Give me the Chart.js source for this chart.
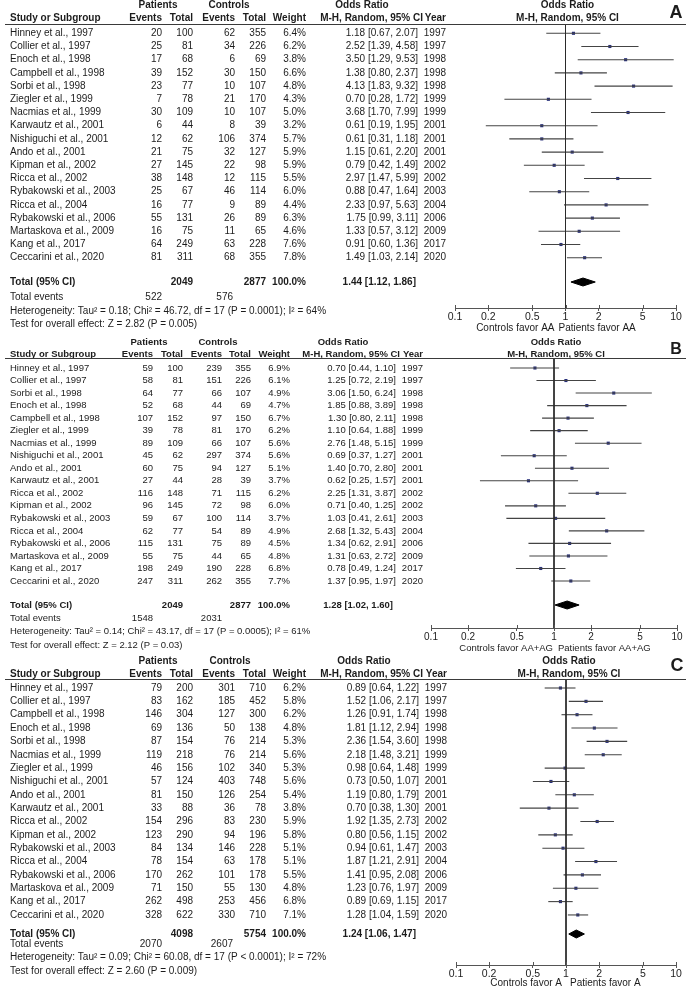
<!DOCTYPE html>
<html><head><meta charset="utf-8">
<script src="https://cdn.jsdelivr.net/npm/chart.js@4.4.1/dist/chart.umd.min.js"></script>
<style>
html,body{margin:0;padding:0;background:#fff}
#wrap{position:relative;width:686px;height:991px;overflow:hidden;background:#fff}
canvas{position:absolute;left:0}
</style>
</head><body>
<div id="wrap">
<canvas id="cA" width="686" height="333" style="top:0px;width:686px;height:333px"></canvas>
<canvas id="cB" width="686" height="322" style="top:333px;width:686px;height:322px"></canvas>
<canvas id="cC" width="686" height="336" style="top:655px;width:686px;height:336px"></canvas>
</div>
<script>
// ---------------- DATA ----------------
const tickValues = [0.1, 0.2, 0.5, 1, 2, 5, 10];

// Panel A (AA)
const studiesA = ["Hinney et al., 1997","Collier et al., 1997","Enoch et al., 1998","Campbell et al., 1998","Sorbi et al., 1998","Ziegler et al., 1999","Nacmias et al., 1999","Karwautz et al., 2001","Nishiguchi et al., 2001","Ando et al., 2001","Kipman et al., 2002","Ricca et al., 2002","Rybakowski et al., 2003","Ricca et al., 2004","Rybakowski et al., 2006","Martaskova et al., 2009","Kang et al., 2017","Ceccarini et al., 2020"];
const patEventsA = [20,25,17,39,23,7,30,6,12,21,27,38,25,16,55,16,64,81];
const patTotalA = [100,81,68,152,77,78,109,44,62,75,145,148,67,77,131,75,249,311];
const conEventsA = [62,34,6,30,10,21,10,8,106,32,22,12,46,9,26,11,63,68];
const conTotalA = [355,226,69,150,107,170,107,39,374,127,98,115,114,89,89,65,228,355];
const weightA = [6.4,6.2,3.8,6.6,4.8,4.3,5.0,3.2,5.7,5.9,5.9,5.5,6.0,4.4,6.3,4.6,7.6,7.8];
const orA = [1.18,2.52,3.50,1.38,4.13,0.70,3.68,0.61,0.61,1.15,0.79,2.97,0.88,2.33,1.75,1.33,0.91,1.49];
const lowA = [0.67,1.39,1.29,0.80,1.83,0.28,1.70,0.19,0.31,0.61,0.42,1.47,0.47,0.97,0.99,0.57,0.60,1.03];
const highA = [2.07,4.58,9.53,2.37,9.32,1.72,7.99,1.95,1.18,2.20,1.49,5.99,1.64,5.63,3.11,3.12,1.36,2.14];
const yearA = [1997,1997,1998,1998,1998,1999,1999,2001,2001,2001,2002,2002,2003,2004,2006,2009,2017,2020];
const summaryA = [1.44,1.12,1.86];
const totalsA = [2049,2877];
const totalEventsA = [522,576];
const hetA = "Heterogeneity: Tau\u00b2 = 0.18; Chi\u00b2 = 46.72, df = 17 (P = 0.0001); I\u00b2 = 64%";
const testA = "Test for overall effect: Z = 2.82 (P = 0.005)";

// Panel B (AA+AG)
const studiesB = ["Hinney et al., 1997","Collier et al., 1997","Sorbi et al., 1998","Enoch et al., 1998","Campbell et al., 1998","Ziegler et al., 1999","Nacmias et al., 1999","Nishiguchi et al., 2001","Ando et al., 2001","Karwautz et al., 2001","Ricca et al., 2002","Kipman et al., 2002","Rybakowski et al., 2003","Ricca et al., 2004","Rybakowski et al., 2006","Martaskova et al., 2009","Kang et al., 2017","Ceccarini et al., 2020"];
const patEventsB = [59,58,64,52,107,39,89,45,60,27,116,96,59,62,115,55,198,247];
const patTotalB = [100,81,77,68,152,78,109,62,75,44,148,145,67,77,131,75,249,311];
const conEventsB = [239,151,66,44,97,81,66,297,94,28,71,72,100,54,75,44,190,262];
const conTotalB = [355,226,107,69,150,170,107,374,127,39,115,98,114,89,89,65,228,355];
const weightB = [6.9,6.1,4.9,4.7,6.7,6.2,5.6,5.6,5.1,3.7,6.2,6.0,3.7,4.9,4.5,4.8,6.8,7.7];
const orB = [0.70,1.25,3.06,1.85,1.30,1.10,2.76,0.69,1.40,0.62,2.25,0.71,1.03,2.68,1.34,1.31,0.78,1.37];
const lowB = [0.44,0.72,1.50,0.88,0.80,0.64,1.48,0.37,0.70,0.25,1.31,0.40,0.41,1.32,0.62,0.63,0.49,0.95];
const highB = [1.10,2.19,6.24,3.89,2.11,1.88,5.15,1.27,2.80,1.57,3.87,1.25,2.61,5.43,2.91,2.72,1.24,1.97];
const yearB = [1997,1997,1998,1998,1998,1999,1999,2001,2001,2001,2002,2002,2003,2004,2006,2009,2017,2020];
const summaryB = [1.28,1.02,1.60];
const totalsB = [2049,2877];
const totalEventsB = [1548,2031];
const hetB = "Heterogeneity: Tau\u00b2 = 0.14; Chi\u00b2 = 43.17, df = 17 (P = 0.0005); I\u00b2 = 61%";
const testB = "Test for overall effect: Z = 2.12 (P = 0.03)";

// Panel C (A allele)
const studiesC = ["Hinney et al., 1997","Collier et al., 1997","Campbell et al., 1998","Enoch et al., 1998","Sorbi et al., 1998","Nacmias et al., 1999","Ziegler et al., 1999","Nishiguchi et al., 2001","Ando et al., 2001","Karwautz et al., 2001","Ricca et al., 2002","Kipman et al., 2002","Rybakowski et al., 2003","Ricca et al., 2004","Rybakowski et al., 2006","Martaskova et al., 2009","Kang et al., 2017","Ceccarini et al., 2020"];
const patEventsC = [79,83,146,69,87,119,46,57,81,33,154,123,84,78,170,71,262,328];
const patTotalC = [200,162,304,136,154,218,156,124,150,88,296,290,134,154,262,150,498,622];
const conEventsC = [301,185,127,50,76,76,102,403,126,36,83,94,146,63,101,55,253,330];
const conTotalC = [710,452,300,138,214,214,340,748,254,78,230,196,228,178,178,130,456,710];
const weightC = [6.2,5.8,6.2,4.8,5.3,5.6,5.3,5.6,5.4,3.8,5.9,5.8,5.1,5.1,5.5,4.8,6.8,7.1];
const orC = [0.89,1.52,1.26,1.81,2.36,2.18,0.98,0.73,1.19,0.70,1.92,0.80,0.94,1.87,1.41,1.23,0.89,1.28];
const lowC = [0.64,1.06,0.91,1.12,1.54,1.48,0.64,0.50,0.80,0.38,1.35,0.56,0.61,1.21,0.95,0.76,0.69,1.04];
const highC = [1.22,2.17,1.74,2.94,3.60,3.21,1.48,1.07,1.79,1.30,2.73,1.15,1.47,2.91,2.08,1.97,1.15,1.59];
const yearC = [1997,1997,1998,1998,1998,1999,1999,2001,2001,2001,2002,2002,2003,2004,2006,2009,2017,2020];
const summaryC = [1.24,1.06,1.47];
const totalsC = [4098,5754];
const totalEventsC = [2070,2607];
const hetC = "Heterogeneity: Tau\u00b2 = 0.09; Chi\u00b2 = 60.08, df = 17 (P < 0.0001); I\u00b2 = 72%";
const testC = "Test for overall effect: Z = 2.60 (P = 0.009)";

// ---------------- LAYOUT (panel-local pixels) ----------------
const panels = [
  { id:'cA', letter:'A', H:333, fs:10,
    studies:studiesA, pe:patEventsA, pt:patTotalA, ce:conEventsA, ct:conTotalA, w:weightA, or:orA, lo:lowA, hi:highA, yr:yearA,
    sum:summaryA, tot:totalsA, tev:totalEventsA, het:hetA, test:testA,
    favL:'Controls favor AA', favR:'Patients favor AA',
    plotLeft:455, plotRight:676, lineTop:24, axis:308, row0:33.3, rowStep:13.2, totalY:282,
    hdr1:5, hdr2:18, foot:[297.7,311,324.3], favY:328, favDxL:-11, favDxR:-7, plotHdrDx:2,
    cols:{name:10, pe:162, pt:193, ce:235, ct:266, w:306, or:418, orTot:416, mh:423, yr:446, patC:158, conC:229, orC:362, tevC:233},
    letterX:676, letterY:13, letterSize:18 },
  { id:'cB', letter:'B', H:322, fs:9.5,
    studies:studiesB, pe:patEventsB, pt:patTotalB, ce:conEventsB, ct:conTotalB, w:weightB, or:orB, lo:lowB, hi:highB, yr:yearB,
    sum:summaryB, tot:totalsB, tev:totalEventsB, het:hetB, test:testB,
    favL:'Controls favor AA+AG', favR:'Patients favor AA+AG',
    plotLeft:431, plotRight:677, lineTop:25, axis:295, row0:35, rowStep:12.53, totalY:272,
    hdr1:9, hdr2:21, foot:[285.3,298.7,312], favY:315, favDxL:-1, favDxR:4, plotHdrDx:2,
    cols:{name:10, pe:153, pt:183, ce:222, ct:251, w:290, or:396, orTot:393, mh:400, yr:423, patC:149, conC:218, orC:343, tevC:222},
    letterX:676, letterY:17, letterSize:16 },
  { id:'cC', letter:'C', H:336, fs:10,
    studies:studiesC, pe:patEventsC, pt:patTotalC, ce:conEventsC, ct:conTotalC, w:weightC, or:orC, lo:lowC, hi:highC, yr:yearC,
    sum:summaryC, tot:totalsC, tev:totalEventsC, het:hetC, test:testC,
    favL:'Controls favor A', favR:'Patients favor A',
    plotLeft:456, plotRight:676, lineTop:24, axis:310, row0:33, rowStep:13.35, totalY:279,
    hdr1:6, hdr2:19, foot:[289.3,302.7,316], favY:328, favDxL:-4, favDxR:4, plotHdrDx:3,
    cols:{name:10, pe:162, pt:193, ce:235, ct:266, w:306, or:419, orTot:416, mh:423, yr:447, patC:158, conC:230, orC:364, tevC:233},
    letterX:677, letterY:11, letterSize:18 }
];

const FAMILY = '"Liberation Sans", Arial, Helvetica, sans-serif';
const TEXT = '#1c1c1c';

function makePlugin(p, totalIdx) {
  return {
    id: 'forest' + p.letter,
    afterDraw(chart) {
      const ctx = chart.ctx, xs = chart.scales.x, ys = chart.scales.y, c = p.cols, F = p.fs;
      const t = (str, x, y, align, bold, size) => {
        ctx.font = (bold ? 'bold ' : '') + (size || F) + 'px ' + FAMILY;
        ctx.textAlign = align; ctx.fillText(String(str), x, y);
      };
      ctx.save();
      ctx.fillStyle = TEXT; ctx.textBaseline = 'middle';
      const x1 = xs.getPixelForValue(1);
      // headers
      t('Patients', c.patC, p.hdr1, 'center', true);
      t('Controls', c.conC, p.hdr1, 'center', true);
      t('Odds Ratio', c.orC, p.hdr1, 'center', true);
      t('Odds Ratio', x1 + p.plotHdrDx, p.hdr1, 'center', true);
      t('Study or Subgroup', c.name, p.hdr2, 'left', true);
      t('Events', c.pe, p.hdr2, 'right', true);
      t('Total', c.pt, p.hdr2, 'right', true);
      t('Events', c.ce, p.hdr2, 'right', true);
      t('Total', c.ct, p.hdr2, 'right', true);
      t('Weight', c.w, p.hdr2, 'right', true);
      t('M-H, Random, 95% CI', c.mh, p.hdr2, 'right', true);
      t('Year', c.yr, p.hdr2, 'right', true);
      t('M-H, Random, 95% CI', x1 + p.plotHdrDx, p.hdr2, 'center', true);
      // study rows
      p.studies.forEach((s, i) => {
        const y = ys.getPixelForValue(i);
        t(s, c.name, y, 'left');
        t(p.pe[i], c.pe, y, 'right');
        t(p.pt[i], c.pt, y, 'right');
        t(p.ce[i], c.ce, y, 'right');
        t(p.ct[i], c.ct, y, 'right');
        t(p.w[i].toFixed(1) + '%', c.w, y, 'right');
        t(p.or[i].toFixed(2) + ' [' + p.lo[i].toFixed(2) + ', ' + p.hi[i].toFixed(2) + ']', c.or, y, 'right');
        t(p.yr[i], c.yr, y, 'right');
      });
      // total row
      const ty = ys.getPixelForValue(totalIdx);
      t('Total (95% CI)', c.name, ty, 'left', true);
      t(p.tot[0], c.pt, ty, 'right', true);
      t(p.tot[1], c.ct, ty, 'right', true);
      t('100.0%', c.w, ty, 'right', true);
      t(p.sum[0].toFixed(2) + ' [' + p.sum[1].toFixed(2) + ', ' + p.sum[2].toFixed(2) + ']', c.orTot, ty, 'right', true);
      // footer
      t('Total events', c.name, p.foot[0], 'left');
      t(p.tev[0], c.pe, p.foot[0], 'right');
      t(p.tev[1], c.tevC, p.foot[0], 'right');
      t(p.het, c.name, p.foot[1], 'left');
      t(p.test, c.name, p.foot[2], 'left');
      // favour labels
      t(p.favL, x1 + p.favDxL, p.favY, 'right');
      t(p.favR, x1 + p.favDxR, p.favY, 'left');
      // panel letter
      t(p.letter, p.letterX, p.letterY, 'center', true, p.letterSize);
      // header rule
      ctx.strokeStyle = '#3a3a3a'; ctx.lineWidth = 1.2;
      const ly = Math.round(chart.chartArea.top) + 0.5;
      ctx.beginPath(); ctx.moveTo(5, ly); ctx.lineTo(686, ly); ctx.stroke();
      // upward half of axis tick marks
      ctx.strokeStyle = '#555'; ctx.lineWidth = 1;
      const ay = chart.chartArea.bottom;
      xs.ticks.forEach(tk => {
        const px = Math.round(xs.getPixelForValue(tk.value)) + 0.5;
        ctx.beginPath(); ctx.moveTo(px, ay - 3); ctx.lineTo(px, ay); ctx.stroke();
      });
      ctx.restore();
    }
  };
}

function makeChart(p) {
  const yMin = -(p.row0 - p.lineTop) / p.rowStep;
  const yMax = yMin + (p.axis - p.lineTop) / p.rowStep;
  const totalIdx = yMin + (p.totalY - p.lineTop) / p.rowStep;
  const dh = 4 / p.rowStep;
  const datasets = [];
  datasets.push({ type:'line', data:[{x:1,y:yMin},{x:1,y:yMax}], borderColor:'#2a2a2a', borderWidth:1, pointRadius:0, fill:false });
  p.studies.forEach((s, i) => {
    datasets.push({ type:'line', data:[{x:p.lo[i],y:i},{x:p.hi[i],y:i}], borderColor:'#444', borderWidth:1.1, pointRadius:0, fill:false });
  });
  datasets.push({ type:'scatter', data:p.or.map((v,i)=>({x:v,y:i})), pointStyle:'rect', pointRadius:2.2,
    backgroundColor:'#28307a', borderColor:'#28307a', borderWidth:0, pointBorderWidth:0 });
  datasets.push({ type:'line', data:[
      {x:p.sum[1],y:totalIdx},{x:p.sum[0],y:totalIdx-dh},{x:p.sum[2],y:totalIdx},{x:p.sum[0],y:totalIdx+dh},{x:p.sum[1],y:totalIdx}],
    borderColor:'#000', backgroundColor:'#000', borderWidth:1, fill:'shape', pointRadius:0, tension:0 });

  new Chart(document.getElementById(p.id), {
    type:'scatter',
    data:{ datasets },
    options:{
      responsive:false, animation:false, events:[],
      layout:{ padding:{ left:p.plotLeft, right:686 - p.plotRight, top:p.lineTop, bottom:0 } },
      plugins:{ legend:{display:false}, tooltip:{enabled:false} },
      scales:{
        x:{ type:'logarithmic', position:'bottom', min:0.1, max:10,
            afterBuildTicks: s => { s.ticks = tickValues.map(v => ({ value:v })); },
            afterFit: s => { s.height = p.H - p.axis; },
            grid:{ drawOnChartArea:false, drawTicks:true, tickLength:3, color:'#555', lineWidth:1 },
            border:{ display:true, color:'#555', width:1 },
            ticks:{ autoSkip:false, maxRotation:0, padding:0, color:TEXT, font:{ family:FAMILY, size:p.fs + 0.5 },
                    callback: v => String(v) } },
        y:{ type:'linear', reverse:true, min:yMin, max:yMax, display:false }
      }
    },
    plugins:[ makePlugin(p, totalIdx) ]
  });
}

panels.forEach(makeChart);
</script>
</body></html>
